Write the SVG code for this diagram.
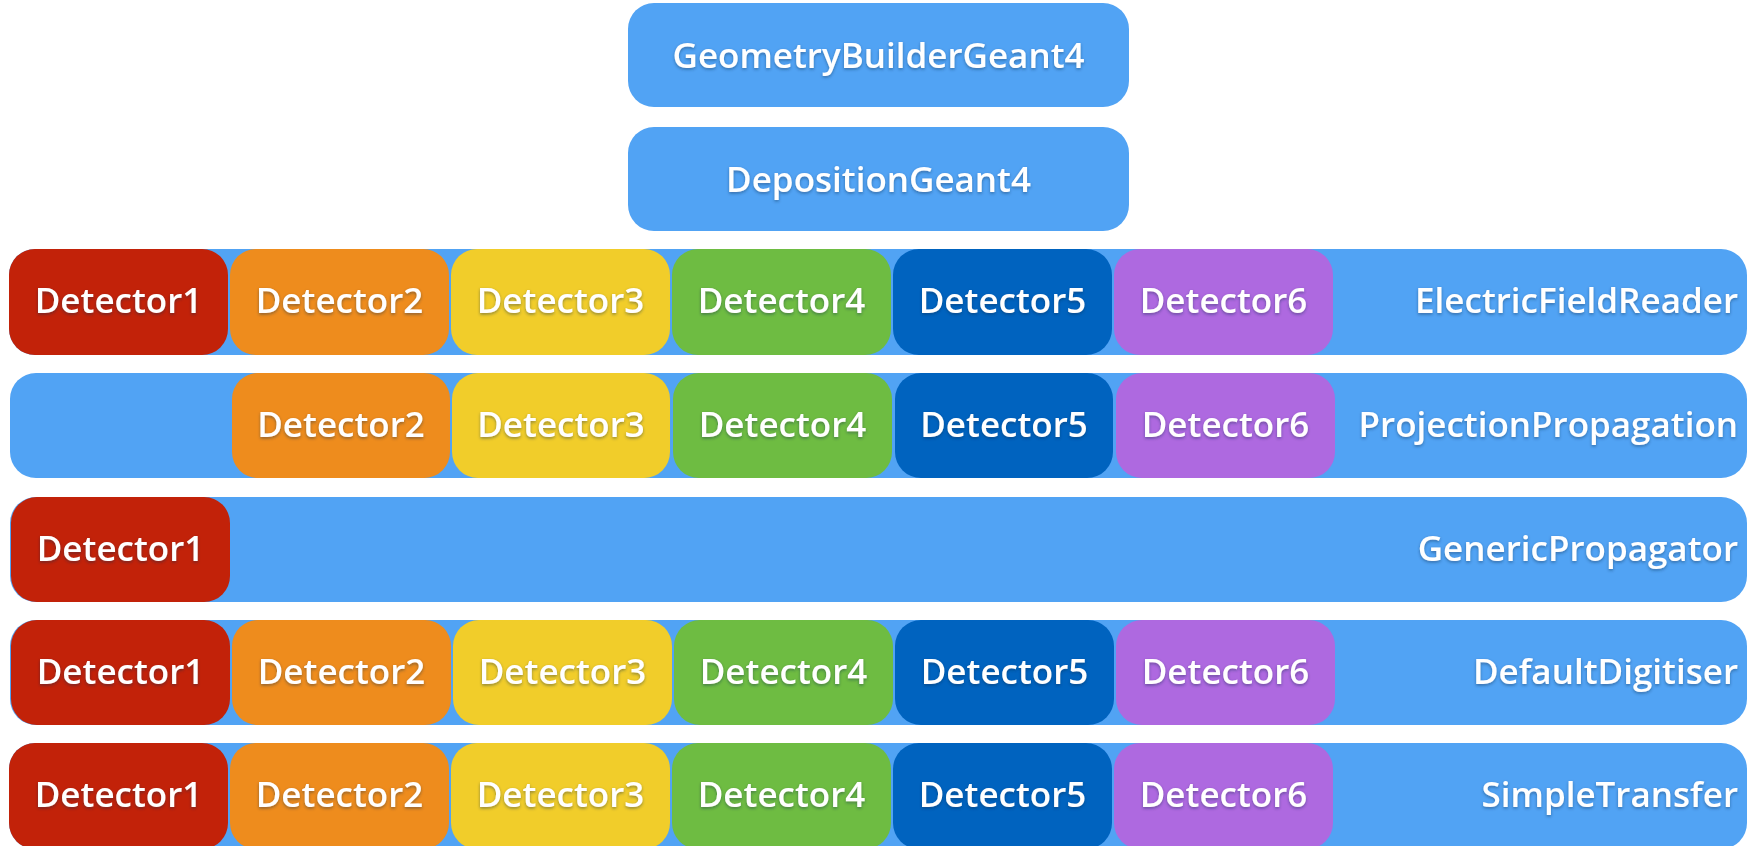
<svg xmlns="http://www.w3.org/2000/svg" width="1752" height="846" viewBox="0 0 1752 846">
  <defs>
    <filter id="ts" x="-10%" y="-30%" width="120%" height="160%">
      <feDropShadow dx="0" dy="1.5" stdDeviation="1.5" flood-color="#1a2a4a" flood-opacity="0.45"/>
    </filter>
  </defs>
  <style>
    .bar { fill: #51A3F4; }
    .d1 { fill: #C22209; }
    .d2 { fill: #EE8C1D; }
    .d3 { fill: #F1CD2A; }
    .d4 { fill: #6EBC42; }
    .d5 { fill: #0063BF; }
    .d6 { fill: #AE69E0; }
    text { font-family: "Open Sans", "Liberation Sans", sans-serif; font-weight: 600; font-size: 35px; fill: #ffffff; filter: url(#ts); }
    .c { text-anchor: middle; }
    .r { text-anchor: end; }
  </style>
  <rect width="1752" height="846" fill="#ffffff"/>

  <g id="GeometryBuilderGeant4">
    <rect class="bar" x="628" y="3" width="501" height="104" rx="26"/>
    <text class="c" x="878.5" y="68">GeometryBuilderGeant4</text>
  </g>
  <g id="DepositionGeant4">
    <rect class="bar" x="628" y="127" width="501" height="104" rx="26"/>
    <text class="c" x="878.5" y="192">DepositionGeant4</text>
  </g>

  <g id="ElectricFieldReader">
    <rect class="bar" x="9" y="249" width="1738" height="106" rx="26"/>
    <text class="r" x="1738" y="313">ElectricFieldReader</text>
    <g id="EFR-Detector1"><rect class="d1" x="9" y="249" width="219" height="106" rx="26"/><text class="c" x="118.5" y="313">Detector1</text></g>
    <g id="EFR-Detector2"><rect class="d2" x="230" y="249" width="219" height="106" rx="26"/><text class="c" x="339.5" y="313">Detector2</text></g>
    <g id="EFR-Detector3"><rect class="d3" x="451" y="249" width="219" height="106" rx="26"/><text class="c" x="560.5" y="313">Detector3</text></g>
    <g id="EFR-Detector4"><rect class="d4" x="672" y="249" width="219" height="106" rx="26"/><text class="c" x="781.5" y="313">Detector4</text></g>
    <g id="EFR-Detector5"><rect class="d5" x="893" y="249" width="219" height="106" rx="26"/><text class="c" x="1002.5" y="313">Detector5</text></g>
    <g id="EFR-Detector6"><rect class="d6" x="1114" y="249" width="219" height="106" rx="26"/><text class="c" x="1223.5" y="313">Detector6</text></g>
  </g>

  <g id="ProjectionPropagation">
    <rect class="bar" x="10" y="373" width="1737" height="105" rx="26"/>
    <text class="r" x="1738" y="437">ProjectionPropagation</text>
    <g id="PP-Detector2"><rect class="d2" x="232" y="373" width="218" height="105" rx="26"/><text class="c" x="341" y="437">Detector2</text></g>
    <g id="PP-Detector3"><rect class="d3" x="452" y="373" width="218" height="105" rx="26"/><text class="c" x="561" y="437">Detector3</text></g>
    <g id="PP-Detector4"><rect class="d4" x="673" y="373" width="219" height="105" rx="26"/><text class="c" x="782.5" y="437">Detector4</text></g>
    <g id="PP-Detector5"><rect class="d5" x="895" y="373" width="218" height="105" rx="26"/><text class="c" x="1004" y="437">Detector5</text></g>
    <g id="PP-Detector6"><rect class="d6" x="1116" y="373" width="219" height="105" rx="26"/><text class="c" x="1225.5" y="437">Detector6</text></g>
  </g>

  <g id="GenericPropagator">
    <rect class="bar" x="10" y="497" width="1737" height="105" rx="26"/>
    <text class="r" x="1738" y="561">GenericPropagator</text>
    <g id="GP-Detector1"><rect class="d1" x="11" y="497" width="219" height="105" rx="26"/><text class="c" x="120.5" y="561">Detector1</text></g>
  </g>

  <g id="DefaultDigitiser">
    <rect class="bar" x="10" y="620" width="1737" height="105" rx="26"/>
    <text class="r" x="1738" y="684">DefaultDigitiser</text>
    <g id="DD-Detector1"><rect class="d1" x="11" y="620" width="219" height="105" rx="26"/><text class="c" x="120.5" y="684">Detector1</text></g>
    <g id="DD-Detector2"><rect class="d2" x="232" y="620" width="219" height="105" rx="26"/><text class="c" x="341.5" y="684">Detector2</text></g>
    <g id="DD-Detector3"><rect class="d3" x="453" y="620" width="219" height="105" rx="26"/><text class="c" x="562.5" y="684">Detector3</text></g>
    <g id="DD-Detector4"><rect class="d4" x="674" y="620" width="219" height="105" rx="26"/><text class="c" x="783.5" y="684">Detector4</text></g>
    <g id="DD-Detector5"><rect class="d5" x="895" y="620" width="219" height="105" rx="26"/><text class="c" x="1004.5" y="684">Detector5</text></g>
    <g id="DD-Detector6"><rect class="d6" x="1116" y="620" width="219" height="105" rx="26"/><text class="c" x="1225.5" y="684">Detector6</text></g>
  </g>

  <g id="SimpleTransfer">
    <rect class="bar" x="9" y="743" width="1738" height="106" rx="26"/>
    <text class="r" x="1738" y="807">SimpleTransfer</text>
    <g id="ST-Detector1"><rect class="d1" x="9" y="743" width="219" height="106" rx="26"/><text class="c" x="118.5" y="807">Detector1</text></g>
    <g id="ST-Detector2"><rect class="d2" x="230" y="743" width="219" height="106" rx="26"/><text class="c" x="339.5" y="807">Detector2</text></g>
    <g id="ST-Detector3"><rect class="d3" x="451" y="743" width="219" height="106" rx="26"/><text class="c" x="560.5" y="807">Detector3</text></g>
    <g id="ST-Detector4"><rect class="d4" x="672" y="743" width="219" height="106" rx="26"/><text class="c" x="781.5" y="807">Detector4</text></g>
    <g id="ST-Detector5"><rect class="d5" x="893" y="743" width="219" height="106" rx="26"/><text class="c" x="1002.5" y="807">Detector5</text></g>
    <g id="ST-Detector6"><rect class="d6" x="1114" y="743" width="219" height="106" rx="26"/><text class="c" x="1223.5" y="807">Detector6</text></g>
  </g>

  <g id="connectors"/>
</svg>
